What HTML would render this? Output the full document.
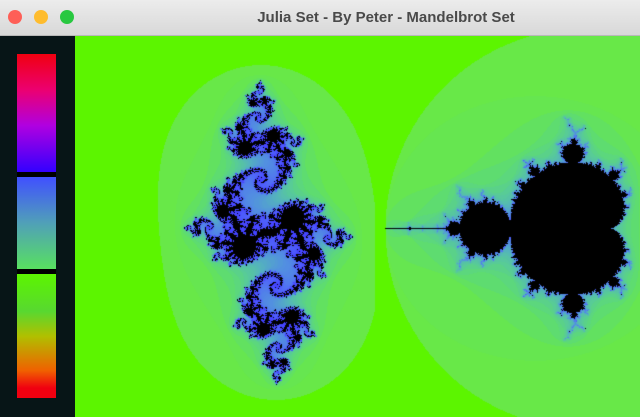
<!DOCTYPE html>
<html><head><meta charset="utf-8"><style>
html,body{margin:0;padding:0;background:#071517;width:640px;height:417px;overflow:hidden;font-family:"Liberation Sans",sans-serif}
#titlebar{position:absolute;left:0;top:0;width:640px;height:36px;background:linear-gradient(#ececec,#d8d8d8);border-bottom:1px solid #b8b8b8;box-sizing:border-box}
.dot{position:absolute;top:10px;width:14px;height:14px;border-radius:50%}
#title{position:absolute;left:0;width:640px;top:9px;text-align:center;font-size:15px;font-weight:bold;color:#4a4a4a;padding-left:132px;box-sizing:border-box}
#panel{position:absolute;left:0;top:36px;width:75px;height:381px;background:#071517}
.seg{position:absolute;left:17px;width:39px}
#cv{position:absolute;left:75px;top:36px}
</style></head><body>
<div id="titlebar">
<div class="dot" style="left:8px;background:#fe5f57"></div>
<div class="dot" style="left:34px;background:#febc2e"></div>
<div class="dot" style="left:60px;background:#28c840"></div>
<div id="title">Julia Set - By Peter - Mandelbrot Set</div>
</div>
<div id="panel">
<div class="seg" style="top:18px;height:119px;background:linear-gradient(#f00010 0%,#ec0070 30%,#b000e0 60%,#3000ff 100%)"></div>
<div class="seg" style="top:136px;height:5px;background:#000"></div>
<div class="seg" style="top:141px;height:92px;background:linear-gradient(#4050ff 0%,#50a0b8 50%,#58e060 100%)"></div>
<div class="seg" style="top:233px;height:5px;background:#000"></div>
<div class="seg" style="top:238px;height:124px;background:linear-gradient(#5cf500 0%,#58d830 30%,#b0c000 50%,#f06000 78%,#f00010 92%)"></div>
</div>
<canvas id="cv" width="565" height="381"></canvas>
<script>
const juliaC = [-0.8, 0.156];
const juliaMaxIter = 100;
const mandelMaxIter = 40;
const stopN = [1, 2, 3, 5, 8, 13, 20, 32, 50, 100];
const stopCol = [[92,245,0],[104,232,72],[102,230,80],[94,220,112],[88,204,150],[84,180,188],[82,144,224],[80,104,248],[72,72,255],[64,64,255]];
function col(n){
  if(n<=stopN[0]) return stopCol[0];
  for(let i=1;i<stopN.length;i++){
    if(n<=stopN[i]){const t=(n-stopN[i-1])/(stopN[i]-stopN[i-1]);const a=stopCol[i-1],b=stopCol[i];return [a[0]+(b[0]-a[0])*t,a[1]+(b[1]-a[1])*t,a[2]+(b[2]-a[2])*t];}
  }
  return stopCol[stopCol.length-1];
}
const cv=document.getElementById('cv');const ctx=cv.getContext('2d');
const W=cv.width,H=cv.height;const img=ctx.createImageData(W,H);const d=img.data;
const scale=100;
for(let y=0;y<H;y++){for(let x=0;x<W;x++){
  const px=x+75,py=y+36;let zr,zi,cr,ci,mi;
  if(px<375){zr=(py-232)/scale;zi=-(px-268)/scale;cr=juliaC[0];ci=juliaC[1];mi=juliaMaxIter;}
  else{zr=0;zi=0;cr=(px-585)/scale;ci=-(py-228)/scale;mi=mandelMaxIter;}
  let n=0;
  while(n<mi){const r2=zr*zr,i2=zi*zi;if(r2+i2>4)break;zi=2*zr*zi+ci;zr=r2-i2+cr;n++;}
  const k=(y*W+x)*4;
  if(n>=mi){d[k]=0;d[k+1]=0;d[k+2]=0;}
  else{const c=col(n);d[k]=c[0];d[k+1]=c[1];d[k+2]=c[2];}
  d[k+3]=255;
}}
ctx.putImageData(img,0,0);
</script>
</body></html>
